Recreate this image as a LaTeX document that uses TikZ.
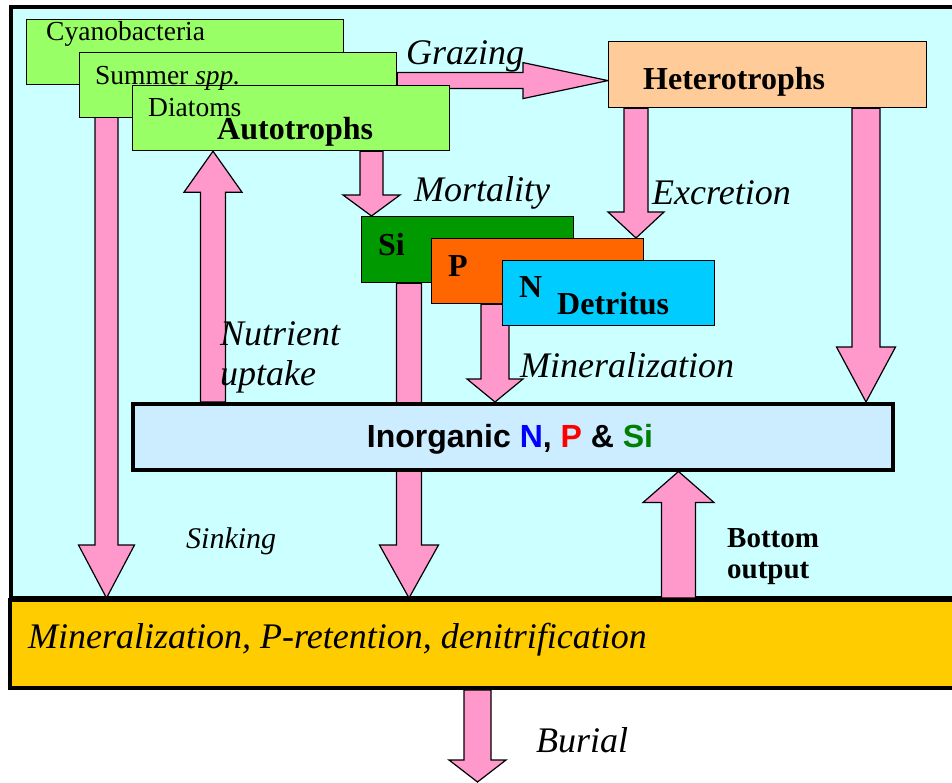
\documentclass[tikz,border=0pt]{standalone}
\usepackage{fontspec}
\setmainfont{Liberation Serif}
\setsansfont{Liberation Sans}
\usetikzlibrary{calc}

\definecolor{waterbg}{HTML}{CCFFFF}
\definecolor{algaegreen}{HTML}{99FF66}
\definecolor{heterobrown}{HTML}{FFCC99}
\definecolor{sigreen}{HTML}{009900}
\definecolor{porange}{HTML}{FF6600}
\definecolor{ncyan}{HTML}{00CCFF}
\definecolor{inorgblue}{HTML}{CCECFF}
\definecolor{sedyellow}{HTML}{FFCC00}
\definecolor{flowpink}{HTML}{FF99CC}

\pgfdeclarelayer{back}
\pgfdeclarelayer{flows}
\pgfsetlayers{back,flows,main}

\tikzset{%
	box/.style={
		draw,
		line width=1.2pt,
		inner sep=0pt,
		anchor=north west
	},
	algae/.style={box, fill=algaegreen, minimum width=317pt, minimum height=65pt},
	detritus/.style={box, minimum width=212pt, minimum height=65pt},
	flow/.style={fill=flowpink, draw=black, line width=1.2pt, line join=miter},
	lbl/.style={inner sep=0pt, anchor=base west},
	ital/.style={lbl, font=\fontsize{36}{40}\selectfont\itshape},
	plain/.style={lbl, font=\fontsize{27.5}{30}\selectfont},
	heavy/.style={lbl, font=\fontsize{32}{34}\selectfont\bfseries},
}

% block arrow going up or down: x, from, to, shaft half width, head half width, head length
\newcommand\vflow[6]{%
	\draw[flow] let \p1=(#2), \p2=(#3) in
		(#1pt-#4pt,\y1) -- (#1pt-#4pt,\y2+#6pt) -- (#1pt-#5pt,\y2+#6pt) -- (#1pt,\y2)
		-- (#1pt+#5pt,\y2+#6pt) -- (#1pt+#4pt,\y2+#6pt) -- (#1pt+#4pt,\y1) -- cycle;}
% block arrow going right: from, to, shaft half width, head half width, head length
\newcommand\hflow[5]{%
	\draw[flow] let \p1=(#1), \p2=(#2) in
		(\x1,\y2+#3pt) -- (\x2-#5pt,\y2+#3pt) -- (\x2-#5pt,\y2+#4pt) -- (\p2)
		-- (\x2-#5pt,\y2-#4pt) -- (\x2-#5pt,\y2-#3pt) -- (\x1,\y2-#3pt) -- cycle;}

\begin{document}
\begin{tikzpicture}[x=1pt, y=-1pt]
	\useasboundingbox (0,0) rectangle (952,783);
	
	% Draw the water column
	\begin{pgfonlayer}{back}
		\draw[line width=4pt, fill=waterbg] (10.5,7.5) rectangle (975,598);
		\node[ital] (grazelbl) at (406,65) {Grazing};
	\end{pgfonlayer}
	
	% Draw the autotroph boxes
	\node[algae] (cyano) at (26,19) {};
	\node[algae] (summer) at (79,52) {};
	\node[algae] (diatoms) at (132,85) {};
	\node[plain] (cyanolbl) at (46,41) {Cyanobacteria};
	\node[plain] (summerlbl) at (95,85) {Summer \textit{spp.}};
	\node[plain] (diatomlbl) at (148,117) {Diatoms};
	\node[heavy] (autolbl) at (217,140) {Autotrophs};
	
	% Draw the heterotroph box
	\node[box, fill=heterobrown, minimum width=318pt, minimum height=66pt] (hetero) at (608,41) {};
	\node[heavy] (heterolbl) at (643,90) {Heterotrophs};
	
	% Draw the detritus boxes
	\node[detritus, fill=sigreen, minimum height=66pt] (sidet) at (361,216) {};
	\node[detritus, fill=porange] (pdet) at (431,238) {};
	\node[detritus, fill=ncyan] (ndet) at (502,260) {};
	\node[heavy] (silbl) at (378,256) {Si};
	\node[heavy] (plbl) at (448,277) {P};
	\node[heavy] (nlbl) at (519,298) {N};
	\node[heavy] (detlbl) at (557,314) {Detritus};
	
	% Draw the inorganic pool
	\node[box, line width=3.5pt, fill=inorgblue, minimum width=760pt, minimum height=66pt] (inorg) at (131,402) {};
	\node[lbl, anchor=base, font=\fontsize{32}{34}\selectfont\sffamily\bfseries] (inorglbl) at (510,447)
		{Inorganic \textcolor{blue}{N}, \textcolor{red}{P} \& \textcolor[HTML]{008000}{Si}};
	
	% Draw the sediment box
	\node[box, line width=4pt, fill=sedyellow, minimum width=1000pt, minimum height=88pt] (sed) at (8,598) {};
	\node[ital] (sedlbl) at (28,648) {Mineralization, P-retention, denitrification};
	\coordinate (burialend) at (477.5,782);
	
	% Draw the arrows
	\begin{pgfonlayer}{flows}
		\hflow{summer.east}{[yshift=-6pt]hetero.west}{8}{18}{85}
		\vflow{106.5}{cyano.south}{sed.north}{11.5}{28}{53}
		\vflow{213}{inorg.north}{diatoms.south}{12.5}{29}{-41}
		\vflow{371.5}{diatoms.south}{sidet.north}{11.5}{28.5}{21}
		\vflow{636}{hetero.south}{pdet.north}{12}{28}{26}
		\vflow{866}{hetero.south}{inorg.north}{14}{29.5}{55}
		\vflow{409}{sidet.south}{sed.north}{12.5}{29.5}{53}
		\vflow{495}{pdet.south}{inorg.north}{14}{28}{23}
		\vflow{678.5}{sed.north}{inorg.south}{17}{35.5}{-31}
		\vflow{477.5}{sed.south}{burialend}{13.5}{28.5}{22}
	\end{pgfonlayer}
	
	% Flow labels
	\node[ital] (mortlbl) at (414,202) {Mortality};
	\node[ital] (excrlbl) at (652,205) {Excretion};
	\node[ital] (minlbl) at (520,377) {Mineralization};
	\node[ital, align=left] (uptakelbl) at (220,385) {Nutrient\\uptake};
	\node[lbl, font=\fontsize{30}{32}\selectfont\itshape] (sinklbl) at (186,548) {Sinking};
	\node[lbl, align=left, font=\fontsize{29}{31}\selectfont\bfseries] (bottomlbl) at (727,578) {Bottom\\output};
	\node[ital] (buriallbl) at (536,752) {Burial};
\end{tikzpicture}
\end{document}
